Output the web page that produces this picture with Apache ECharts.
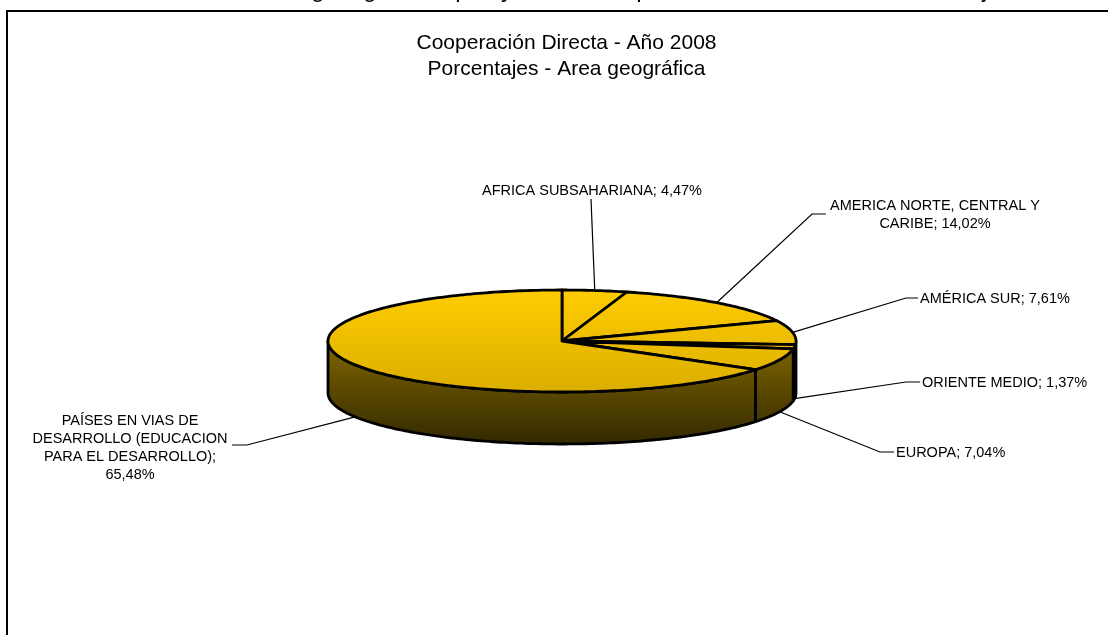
<!DOCTYPE html>
<html>
<head>
<meta charset="utf-8">
<style>html,body{margin:0;padding:0;background:#fff}#c{width:1108px;height:635px}</style>
<script src="https://cdn.jsdelivr.net/npm/echarts@6/dist/echarts.min.js"></script>
</head>
<body>
<div id="c"></div>
<script>
const categories = ['AFRICA SUBSAHARIANA','AMERICA NORTE, CENTRAL Y\nCARIBE','AMÉRICA SUR','ORIENTE MEDIO','EUROPA','PAÍSES EN VIAS DE\nDESARROLLO (EDUCACION\nPARA EL DESARROLLO)'];
const values = [4.47,14.02,7.61,1.37,7.04,65.48];
const titleLines = ['Cooperación Directa - Año 2008','Porcentajes - Area geográfica'];
const croppedGlyphs = ['g','g','p','y','p','j'];

const FONT = '"Liberation Sans", Arial, sans-serif';
const pie = {cx:562, cy:341, rx:234, ry:51, depth:52};
// Label placement: elbow of the leader line, text anchor, alignment
const labelLayout = [
  {elbow:null,      x:592, y:191, align:'center', end:[591,199]},
  {elbow:[812,214], x:829, y:215, align:'left', textX:935, textAlign:'center', end:[826,214]},
  {elbow:[906,298], x:920, y:299, align:'left', end:[918,298]},
  {elbow:[906,382], x:922, y:383, align:'left', end:[920,382]},
  {elbow:[880,452], x:896, y:453, align:'left', end:[894,452]},
  {elbow:[247,445], x:130, y:448, align:'center', end:[232,445], valueBreak:true}
];
const croppedX = [318,370,462,507,643,985];

const total = values.reduce((a,b)=>a+b,0);
const cum = [];
values.reduce((a,v,i)=>{cum[i]=a;return a+v;},0);
const deg = p => p/total*360;
const pt = (a,dy) => {
  const r = a*Math.PI/180;
  return [pie.cx+pie.rx*Math.sin(r), pie.cy-pie.ry*Math.cos(r)+(dy||0)];
};
const arc = (a0,a1,dy) => {
  const n = Math.max(1,Math.ceil(Math.abs(a1-a0)));
  const out=[];
  for(let i=0;i<=n;i++) out.push(pt(a0+(a1-a0)*i/n,dy));
  return out;
};
const topFill = new echarts.graphic.LinearGradient(0,pie.cy-pie.ry,0,pie.cy+pie.ry,[{offset:0,color:'#FFCC00'},{offset:1,color:'#DBAE00'}],true);
const sideFill = new echarts.graphic.LinearGradient(0,pie.cy,0,pie.cy+pie.ry+pie.depth,[{offset:0,color:'#806600'},{offset:1,color:'#332900'}],true);
const edge = {stroke:'#000',lineWidth:2.8,lineJoin:'round'};

function renderSlice(params, api){
  const i = params.dataIndex;
  const a0 = deg(cum[i]), a1 = deg(cum[i]+api.value(0));
  const mid = (a0+a1)/2;
  const kids = [];
  const lo = Math.max(a0,90), hi = Math.min(a1,270);
  if(hi>lo){
    kids.push({type:'polygon',z2:1,shape:{points:arc(lo,hi,0).concat(arc(hi,lo,pie.depth))},style:Object.assign({fill:sideFill},edge)});
  }
  kids.push({type:'polygon',z2:2,shape:{points:[[pie.cx,pie.cy]].concat(arc(a0,a1,0))},style:Object.assign({fill:topFill},edge)});
  const front = mid>90 && mid<270;
  const L = labelLayout[i];
  const anchor = pt(mid, front?pie.depth:0);
  const pts = [anchor];
  if(L.elbow) pts.push(L.elbow);
  pts.push(L.end);
  kids.push({type:'polyline',z2:3,shape:{points:pts},style:{stroke:'#000',lineWidth:1.2,fill:null}});
  const val = api.value(0).toFixed(2).replace('.',',')+'%';
  kids.push({type:'text',z2:4,style:{
    x:L.textX||L.x, y:L.y, text:categories[i]+';'+(L.valueBreak?'\n':' ')+val,
    font:'14.5px '+FONT, fill:'#000', align:L.textAlign||L.align, verticalAlign:'middle', lineHeight:18
  }});
  return {type:'group',children:kids};
}

const chart = echarts.init(document.getElementById('c'),null,{renderer:'canvas'});
chart.setOption({
  animation:false,
  backgroundColor:'#fff',
  title:{
    text:titleLines.join('\n'), left:561.5, top:25, textAlign:'center',
    textStyle:{fontFamily:FONT,fontSize:21,fontWeight:'normal',color:'#000',lineHeight:26}
  },
  graphic:[
    {type:'rect',shape:{x:7,y:11,width:1300,height:800},style:{fill:null,stroke:'#000',lineWidth:2}}
  ].concat(croppedGlyphs.map((g,i)=>({
    type:'text',x:croppedX[i],y:-22,style:{text:g,font:'24px '+FONT,fill:'#000',align:'center',verticalAlign:'top'}
  }))),
  series:[{
    type:'custom',coordinateSystem:'none',silent:true,
    renderItem:renderSlice,
    data:categories.map((n,i)=>({name:n,value:values[i]}))
  }]
});
</script>
</body>
</html>
